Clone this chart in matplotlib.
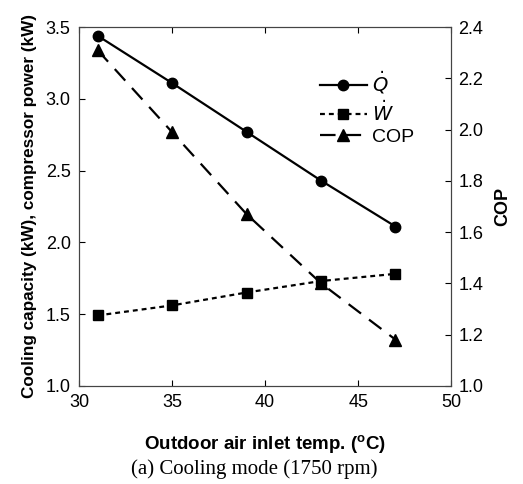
import matplotlib.pyplot as plt

plt.rcParams['font.family'] = ['Liberation Sans', 'DejaVu Sans']

# data
temp = [31, 35, 39, 43, 47]
q_cap = [3.44, 3.11, 2.77, 2.43, 2.11]
w_comp = [1.49, 1.56, 1.65, 1.73, 1.78]
cop = [2.31, 1.99, 1.67, 1.40, 1.18]

fig = plt.figure(figsize=(5.23, 4.84), dpi=100)
ax = fig.add_axes([0.151, 0.203, 0.712, 0.741])
ax2 = ax.twinx()

l1, = ax.plot(temp, q_cap, color='black', lw=1.6, marker='o', ms=7.5, label=r'$\dot{Q}$')
l2, = ax.plot(temp, w_comp, color='black', lw=1.6, ls=(0, (2.2, 1.8)), marker='s', ms=7.5,
              label=r'$\dot{W}$')
l3, = ax2.plot(temp, cop, color='black', lw=1.6, ls=(0, (7, 4.5)), marker='^', ms=8,
               label='COP')

ax.set_xlim(30, 50)
ax.set_ylim(1.0, 3.5)
ax2.set_ylim(1.0, 2.4)
ax.set_xticks([30, 35, 40, 45, 50])
ax.set_yticks([1.0, 1.5, 2.0, 2.5, 3.0, 3.5])
ax2.set_yticks([1.0, 1.2, 1.4, 1.6, 1.8, 2.0, 2.2, 2.4])
ax.set_yticklabels([f'{v:.1f}' for v in ax.get_yticks()])
ax2.set_yticklabels([f'{v:.1f}' for v in ax2.get_yticks()])

ax.tick_params(axis='both', direction='in', length=4, labelsize=13, pad=6, top=True)
ax.tick_params(axis='y', right=False)
ax2.tick_params(axis='y', direction='in', length=4, labelsize=13, pad=5)

for a in (ax, ax2):
    for s in a.spines.values():
        s.set_linewidth(0.8)
        s.set_color('#444444')

ax.set_xlabel('Outdoor air inlet temp. ($\\mathregular{^oC}$)', fontsize=13.5,
              fontweight='bold', labelpad=16)
ax.set_ylabel('Cooling capacity (kW), compressor power (kW)', fontsize=12.3,
              fontweight='bold', labelpad=6)
ax2.set_ylabel('COP', fontsize=13, fontweight='bold', labelpad=8)

ax.legend(handles=[l1, l2, l3], loc='upper left', bbox_to_anchor=(0.6, 0.93),
          frameon=False, fontsize=14, handlelength=2.4, handletextpad=0.3,
          labelspacing=0.2)

fig.text(0.487, 0.02, '(a) Cooling mode (1750 rpm)', ha='center', fontsize=15,
         family='Liberation Serif')

fig.savefig('out.png', dpi=100)
